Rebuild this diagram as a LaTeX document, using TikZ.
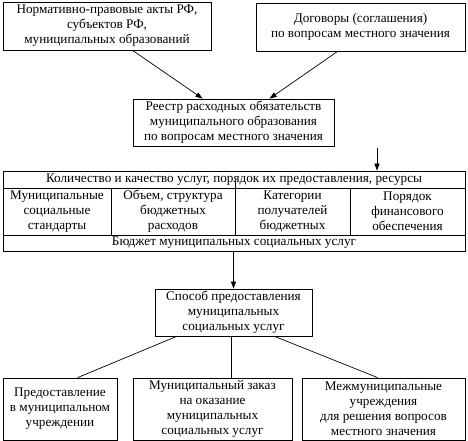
\documentclass[tikz,border=0pt]{standalone}
\usepackage{fontspec}
\setmainfont{Liberation Serif}
\usetikzlibrary{arrows.meta,calc}
\begin{document}
\begin{tikzpicture}[x=1pt,y=-1pt,
  box/.style={draw,line width=0.8pt,rectangle,inner sep=0pt,align=center,font=\fontsize{13.2}{15}\selectfont},
  arr/.style={line width=0.7pt,-{Triangle[length=7pt,width=5pt]}},
  ln/.style={line width=0.7pt}]
\useasboundingbox (0,0) rectangle (468,441);
\node[box,minimum width=208,minimum height=48] (lt) at (107,26) {Нормативно-правовые акты РФ,\\субъектов РФ,\\муниципальных образований};
\node[box,minimum width=209,minimum height=48] (rt) at (360.5,27) {Договоры (соглашения)\\по вопросам местного значения};
\node[box,minimum width=201,minimum height=47] (reg) at (233.5,122.5) {Реестр расходных обязательств\\муниципального образования\\по вопросам местного значения};
\node[box,minimum width=462,minimum height=17] (row) at (234,179.5) {Количество и качество услуг, порядок их предоставления, ресурсы};
\node[box,minimum width=108,minimum height=47] (c1) at (57,211.5) {Муниципальные\\социальные\\стандарты};
\node[box,minimum width=124,minimum height=47] (c2) at (173,211.5) {Объем, структура\\бюджетных\\расходов};
\node[box,minimum width=115,minimum height=47] (c3) at (292.5,211.5) {Категории\\получателей\\бюджетных};
\node[box,minimum width=115,minimum height=47] (c4) at (407.5,211.5) {Порядок\\финансового\\обеспечения};
\node[box,minimum width=462,minimum height=16] (bud) at (234,243) {Бюджет муниципальных социальных услуг};
\node[box,minimum width=157,minimum height=47] (meth) at (233.5,312.5) {Способ предоставления\\муниципальных\\социальных услуг};
\node[box,minimum width=114,minimum height=62] (b1) at (60,409) {Предоставление\\в муниципальном\\учреждении};
\node[box,minimum width=159,minimum height=62] (b2) at (212.5,409) {Муниципальный заказ\\на оказание\\муниципальных\\социальных услуг};
\node[box,minimum width=163,minimum height=62] (b3) at (383.5,409) {Межмуниципальные\\учреждения\\для решения вопросов\\местного значения};
\coordinate (rs) at (377,148);
\draw[ln] (c2.north east) -- ++(0,-7);
\draw[arr] ($(lt.south west)+(130,0)$) -- ($(reg.north west)+(70,0)$);
\draw[arr] ($(rt.south west)+(82,0)$) -- ($(reg.north west)+(137,0)$);
\draw[arr] (rs) -- (rs |- row.north);
\draw[arr] (bud.south -| meth.north) -- (meth.north);
\draw[ln] ($(meth.south west)+(22,0)$) -- ($(b1.north west)+(75,0)$);
\draw[ln] (meth.south -| b2.north east) ++(-61,0) coordinate (mm) (mm) -- (mm |- b2.north);
\draw[ln] ($(meth.south west)+(120,0)$) -- ($(b3.north west)+(76,0)$);
\end{tikzpicture}
\end{document}
